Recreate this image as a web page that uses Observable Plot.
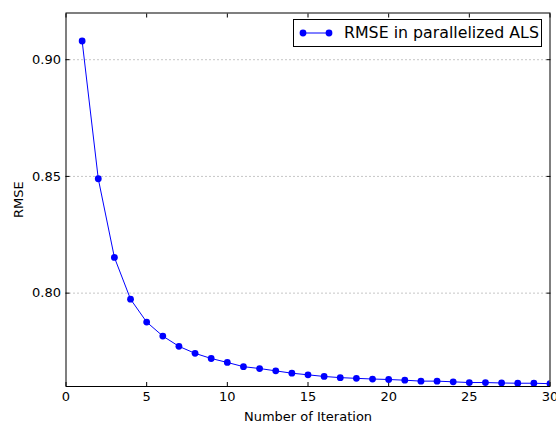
<!DOCTYPE html>
<html>
<head>
<meta charset="utf-8">
<script src="https://cdn.jsdelivr.net/npm/d3@7"></script>
<script src="https://cdn.jsdelivr.net/npm/@observablehq/plot@0.6"></script>
<style>
  html, body { margin: 0; padding: 0; background: #fff; }
  #wrap { position: relative; width: 556px; height: 424px; font-family: "DejaVu Sans", sans-serif; }
  #legend { position: absolute; left: 293px; top: 19px; width: 249px; height: 28px; border: 1px solid #000; background: #fff; box-sizing: border-box; }
  #legend svg { position: absolute; left: 0; top: 0; }
  #legend span { position: absolute; left: 50px; top: 3px; font-size: 15.8px; color: #000; white-space: nowrap; }
</style>
</head>
<body>
<div id="wrap"></div>
<script>
const iterations = [1,2,3,4,5,6,7,8,9,10,11,12,13,14,15,16,17,18,19,20,21,22,23,24,25,26,27,28,29,30];
const rmse = [0.908,0.849,0.8153,0.7974,0.7876,0.7816,0.7772,0.7742,0.7720,0.7703,0.7685,0.7677,0.7667,0.7657,0.7650,0.7643,0.7638,0.7635,0.7632,0.7630,0.7627,0.7623,0.7623,0.7620,0.7617,0.7617,0.7615,0.7614,0.7614,0.7612];
const xTicks = [0,5,10,15,20,25,30];
const yTicks = [0.80,0.85,0.90];
const seriesName = "RMSE in parallelized ALS";
const xLabel = "Number of Iteration";
const yLabel = "RMSE";

const data = iterations.map((x, i) => ({x, y: rmse[i]}));
const font = "DejaVu Sans, sans-serif";

const chart = Plot.plot({
  width: 556,
  height: 424,
  marginLeft: 65.5,
  marginRight: 6.5,
  marginTop: 12.5,
  marginBottom: 38,
  style: {fontFamily: font, fontSize: "13px", color: "#000", background: "#fff"},
  x: {domain: [0, 30]},
  y: {domain: [0.76, 0.92]},
  marks: [
    Plot.gridY(yTicks, {stroke: "#000", strokeOpacity: 0.45, strokeWidth: 1, strokeDasharray: "1,3"}),
    Plot.axisX(xTicks, {anchor: "bottom", tickSize: 0, tickPadding: 5, fontSize: 13, label: xLabel, labelAnchor: "center", labelArrow: "none", labelOffset: 34}),
    Plot.axisX(xTicks, {anchor: "bottom", tickSize: 4, dy: -4, tickFormat: () => "", label: null}),
    Plot.axisX(xTicks, {anchor: "top", tickSize: 4, dy: 4, tickFormat: () => "", label: null}),
    Plot.axisY(yTicks, {anchor: "left", tickSize: 0, tickPadding: 5, fontSize: 13, tickFormat: d3.format(".2f"), label: yLabel, labelAnchor: "center", labelArrow: "none", labelOffset: 52}),
    Plot.axisY(yTicks, {anchor: "left", tickSize: 4, dx: 4, tickFormat: () => "", label: null}),
    Plot.axisY(yTicks, {anchor: "right", tickSize: 4, dx: -4, tickFormat: () => "", label: null}),
    Plot.line(data, {x: "x", y: "y", stroke: "#0000ff", strokeWidth: 1, clip: true}),
    Plot.dot(data, {x: "x", y: "y", fill: "#0000ff", r: 3.4, clip: true}),
    Plot.frame({stroke: "#000", strokeWidth: 1})
  ]
});

const wrap = document.getElementById("wrap");
wrap.appendChild(chart);

const legend = document.createElement("div");
legend.id = "legend";
legend.innerHTML = `<svg width="48" height="26"><line x1="9" y1="13" x2="35" y2="13" stroke="#0000ff" stroke-width="1"/><circle cx="9" cy="13" r="3.4" fill="#0000ff"/><circle cx="35" cy="13" r="3.4" fill="#0000ff"/></svg><span></span>`;
legend.querySelector("span").textContent = seriesName;
wrap.appendChild(legend);
</script>
</body>
</html>
